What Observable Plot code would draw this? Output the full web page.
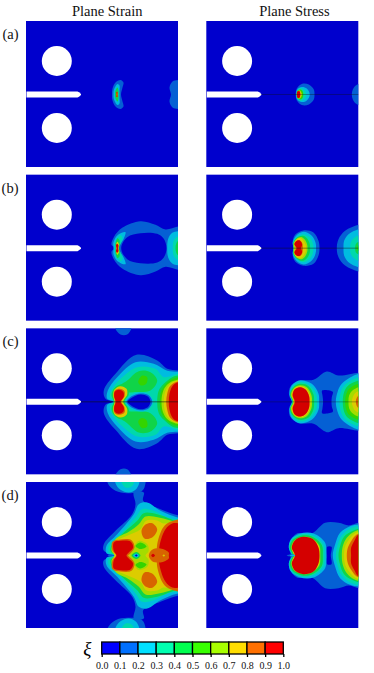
<!DOCTYPE html>
<html><head><meta charset="utf-8">
<script src="https://cdn.jsdelivr.net/npm/d3@7"></script>
<script src="https://cdn.jsdelivr.net/npm/@observablehq/plot@0.6"></script>
<style>html,body{margin:0;padding:0;background:#fff}svg{display:block}</style>
</head><body><div id="chart"></div><div id="bar"></div>
<script>
const columns = ["Plane Strain", "Plane Stress"];
const rowsNames = ["(a)", "(b)", "(c)", "(d)"];
const bandEdges = [0, 0.1, 0.2, 0.3, 0.4, 0.5, 0.6, 0.7, 0.8, 0.9, 1.0];
const panelColors = ["#0000cd","#0560d4","#00bce0","#00d8ac","#10d448","#34d400","#a4dc00","#dccc00","#d86400","#d40000"];
const barColors = ["#0000ff","#0070ff","#00e0ff","#00ffb0","#00ff50","#38ff00","#a8ff00","#ffdd00","#ff7000","#ff0000"];
const holeCenters = [[30.3,-33.5],[30.3,33.5]];
const notchOutline = [[0,-3],[51,-3],[52.5,-2.2],[54.5,-0.5],[54.5,0.5],[52.5,2.2],[51,3],[0,3]];
const crackPanels = [["Plane Stress","(a)",0.6],["Plane Stress","(b)",0.75],["Plane Stress","(c)",0.55],["Plane Strain","(c)",1]];

// contour bands: [lower bound of xi band, half = mirrored across the crack axis / pair = two mirrored lobes, outline]
const strainA = [
 [0.1,"half",[[144.5,0],[143,-7],[146,-13],[152,-14.5],[160,-14.5],[160,0]]],
 [0.1,"half",[[85.5,0],[86,-6],[89,-12],[94,-14.5],[97,-12],[96,-7],[94.5,0]]],
 [0.2,"half",[[87,0],[87.5,-5],[91,-10.5],[93,-9],[93,-4],[93,0]]],
 [0.4,"half",[[88.5,0],[89,-4],[91,-7],[92,-4],[92,0]]],
 [0.6,"half",[[89.5,0],[90.5,-3],[91.5,-1.5],[91.5,0]]],
 [0.9,"half",[[90,0],[90,-2.5],[91,-2.5],[91,0]]]
];
const stressA = [
 [0.1,"half",[[145,0],[146,-5],[149,-9],[153,-11],[160,-11],[160,0]]],
 [0.1,"half",[[89,0],[90,-6],[95,-10.5],[102,-10],[107,-5],[107.7,0]]],
 [0.2,"half",[[89.3,0],[90.5,-5],[95,-7.5],[100,-6],[103,0]]],
 [0.3,"half",[[89.5,0],[91,-4.5],[94,-6.5],[98,-4],[99.5,0]]],
 [0.5,"half",[[90,0],[91,-4],[94,-5],[96,-3],[96.5,0]]],
 [0.7,"half",[[90,0],[91,-3.5],[93,-4],[94.5,-2],[95,0]]],
 [0.9,"half",[[90,0],[90.5,-3],[92.5,-3.5],[93.5,-1],[93.5,0]]]
];
const strainB = [
 [0.1,"half",[[89,0],[85,-3.3],[87.3,-11],[95.7,-20.3],[114,-27],[129,-23.3],[139,-18.7],[151.7,-21.7],[160,-21.7],[160,0]]],
 [0.0,"half",[[94.7,0],[100.7,-11],[114,-15],[130.7,-14.3],[137.3,-9.3],[140,0]]],
 [0.2,"half",[[140.7,0],[141.7,-9.3],[145.7,-15.3],[151.7,-17],[160,-17],[160,0]]],
 [0.3,"half",[[146.3,0],[147.3,-7.7],[151.7,-12],[160,-12],[160,0]]],
 [0.4,"half",[[149,0],[149.7,-4.3],[151.7,-7.3],[160,-7],[160,0]]],
 [0.2,"half",[[87,0],[87,-6],[91,-13],[99,-16],[97,-9],[93,-3],[92.5,0]]],
 [0.3,"half",[[89,0],[88.7,-4],[90,-9],[94,-13],[96,-10],[94,-4],[92,0]]],
 [0.4,"half",[[89,0],[89,-5],[91,-10],[93,-8],[93,-3],[92.5,0]]],
 [0.7,"half",[[89.5,0],[89.5,-3.5],[91,-6.5],[92.5,-4],[92,0]]],
 [0.9,"half",[[90,0],[89.5,-3],[90.5,-4.5],[92,-3],[91.5,0]]]
];
const stressB = [
 [0.1,"half",[[130,0],[131.7,-9],[138.3,-17.3],[151.7,-23.3],[160,-25],[160,0]]],
 [0.2,"half",[[136.7,0],[137.3,-7.3],[141.7,-14],[151.7,-19],[160,-21],[160,0]]],
 [0.3,"half",[[143.3,0],[144,-5.7],[146.7,-9.7],[151.7,-13],[160,-15],[160,0]]],
 [0.4,"half",[[148.3,0],[149,-4],[151.7,-6.3],[160,-8],[160,0]]],
 [0.5,"half",[[150,0],[151,-2.3],[160,-4],[160,0]]],
 [0.1,"half",[[86.7,0],[85.7,-5.7],[88.3,-13.3],[96.7,-17.7],[106.7,-15.7],[111.7,-7.3],[112.7,0]]],
 [0.2,"half",[[86.7,0],[86,-5.7],[89.3,-12.3],[96.7,-16.3],[105,-12.3],[108.7,-5.7],[109.3,0]]],
 [0.3,"half",[[87,0],[86.3,-5.5],[90,-11],[96.7,-14],[103,-11],[106,-5],[106.7,0]]],
 [0.4,"half",[[87,0],[86.5,-5],[90,-10.5],[96,-12.5],[100.5,-9.5],[103,-4],[103.3,0]]],
 [0.6,"half",[[87,0],[87,-5],[90,-9.5],[95,-11],[98.5,-8],[100.5,-3],[100.7,0]]],
 [0.7,"half",[[88,0],[87.5,-5],[90,-9],[94,-10],[97,-7],[99,-3],[99.3,0]]],
 [0.8,"half",[[89,0],[88,-4.5],[90.5,-7.5],[93,-8],[95.5,-5],[96,0]]],
 [0.9,"half",[[90,0],[87.5,-4],[90,-7.5],[93,-7.7],[95.3,-4],[94.5,-1],[94,0]]]
];
const strainC = [
 [0.1,"pair",[[89,-80],[89,-73],[94,-67.3],[100.7,-67.3],[104.7,-73],[104.7,-80]]],
 [0.1,"half",[[87.3,0],[79,-3],[77.3,-11.3],[89,-28],[110,-47],[130.7,-41.3],[140.7,-33],[151.7,-31.3],[160,-31],[160,0]]],
 [0.2,"half",[[87.3,0],[80.7,-3],[81.3,-11.3],[90.7,-24.7],[109,-39.7],[127.3,-38],[140.7,-31],[151.7,-30],[160,-30],[160,0]]],
 [0.3,"half",[[87.3,0],[83.3,-4.7],[85.7,-13],[94,-23],[110.7,-34.7],[129,-33],[137.3,-24.7],[151.7,-28],[160,-28],[160,0]]],
 [0.4,"pair",[[92.3,-14.7],[100.7,-21.3],[112.3,-30.7],[124,-29.7],[130.7,-21.3],[124,-11.3],[107.3,-9.7],[99,-9.7]]],
 [0.5,"pair",[[111.7,-19.7],[115.7,-26.3],[120.7,-24.7],[119.7,-18],[114.7,-16.3]]],
 [0.2,"half",[[99,0],[104,-6.3],[114,-9.7],[122.3,-7.3],[126.7,0]]],
 [0.1,"half",[[100,0],[104.7,-5.3],[114,-8.3],[122.3,-6.3],[125.7,0]]],
 [0.0,"half",[[101,0],[105.7,-4.3],[114,-7.3],[121.3,-5.3],[124,0]]],
 [0.4,"half",[[87.3,0],[85,-6.3],[87.3,-13],[94,-17.3],[101.3,-13],[102.3,-7.3],[98,0]]],
 [0.7,"half",[[88,0],[86.7,-6.3],[88,-12.3],[94,-15.7],[100,-13],[100.7,-7.3],[96.7,0]]],
 [0.8,"half",[[88.7,0],[87.3,-6.3],[88.3,-11.3],[93.3,-13],[98,-10.7],[98,-5.3],[94.7,0]]],
 [0.9,"half",[[89.3,0],[87.7,-5.3],[88.3,-10],[92.3,-12],[96.7,-10],[97.3,-5.3],[94.7,-1.3],[94,0]]],
 [0.4,"half",[[130.7,0],[132.3,-11.3],[137.3,-18],[145.7,-24.7],[151.7,-26.3],[160,-26.3],[160,0]]],
 [0.5,"half",[[133.3,0],[134.7,-10.3],[139,-17.3],[146.7,-23],[160,-24.7],[160,0]]],
 [0.6,"half",[[135,0],[136.3,-9.7],[140,-16.3],[147.3,-21],[160,-22],[160,0]]],
 [0.7,"half",[[137.3,0],[138.3,-8.7],[141.7,-15.7],[148,-20.3],[160,-21],[160,0]]],
 [0.8,"half",[[139.7,0],[140.7,-8],[143.3,-15.3],[149,-19.7],[160,-20],[160,0]]],
 [0.9,"half",[[142.3,0],[143,-8],[145.7,-15.3],[150,-19],[160,-19.5],[160,0]]]
];
const stressC = [
 [0.1,"half",[[85,0],[82.3,-6.3],[83.3,-14.7],[91.7,-21.3],[106.7,-22],[120,-30.3],[131.7,-26.3],[151.7,-29],[160,-29],[160,0]]],
 [0.0,"half",[[116.3,0],[115.7,-6.3],[115.3,-11.3],[126,-10],[125,-4.7],[124.7,0]]],
 [0.2,"half",[[85.3,0],[82.7,-7.3],[85,-16.3],[93.3,-21.3],[105,-18],[111.7,-8],[112.3,0]]],
 [0.3,"half",[[85.3,0],[83,-7.3],[86,-15.3],[93.3,-19.7],[103.3,-16.3],[109.3,-8],[110.3,0]]],
 [0.4,"half",[[86,0],[83.3,-7.3],[86.7,-14.7],[93.3,-18],[101.7,-15.7],[106.7,-7.3],[107.3,0]]],
 [0.6,"half",[[86.5,0],[84,-7],[87.5,-14],[93.3,-16.5],[100,-14.5],[104.5,-7],[105.3,0]]],
 [0.7,"half",[[87,0],[85,-7],[88,-13.5],[93.3,-15.5],[99,-13.5],[103,-7],[103.7,0]]],
 [0.8,"half",[[87.5,0],[85.5,-7],[88.5,-13],[93.3,-14.7],[98,-13],[102,-7],[102.5,0]]],
 [0.9,"half",[[88.3,0],[86,-6.3],[87.7,-12.3],[93.3,-14.7],[99,-12],[102.3,-5.3],[102.7,0]]],
 [0.2,"half",[[129,0],[130.7,-9.7],[135,-18],[151.7,-28],[160,-28],[160,0]]],
 [0.3,"half",[[132.7,0],[134,-9.7],[138.3,-17.3],[151.7,-24.7],[160,-25],[160,0]]],
 [0.4,"half",[[136,0],[137,-8.7],[140.7,-15.7],[151.7,-21.3],[160,-22],[160,0]]],
 [0.5,"half",[[138.3,0],[139.3,-7.3],[142.3,-13],[151.7,-18],[160,-18],[160,0]]],
 [0.6,"half",[[141.7,0],[142.3,-6.3],[145.7,-11.3],[151.7,-14.7],[160,-15],[160,0]]],
 [0.7,"half",[[145,0],[146,-4.7],[148.3,-8.7],[151.7,-10.7],[160,-11],[160,0]]],
 [0.8,"half",[[149,0],[149.7,-3.3],[151.7,-6],[160,-6],[160,0]]]
];
const strainD = [
 [0.1,"pair",[[81.3,-80],[81.3,-72.3],[89,-64.7],[100.7,-62.3],[115.7,-64.7],[119,-72.3],[119,-80]]],
 [0.2,"pair",[[89,-80],[89,-72.3],[94,-65.7],[102.3,-63],[109,-65.7],[112.7,-72.3],[112.7,-80]]],
 [0.3,"pair",[[94.7,-80],[94.7,-74],[99,-68],[104.7,-68.7],[108,-74],[108,-80]]],
 [0.1,"half",[[88,0],[77.3,-4.7],[77.3,-11.3],[89,-24.7],[105.7,-41.3],[109,-51.3],[107.3,-63],[117.3,-63],[116.7,-54.7],[134,-46.3],[151.7,-40.3],[160,-40],[160,0]]],
 [0.2,"half",[[88,0],[80,-2.3],[80,-9.7],[90.7,-21.3],[107.3,-41.3],[112.3,-51.3],[120.7,-53],[134,-44.7],[151.7,-38],[160,-38],[160,0]]],
 [0.3,"half",[[88,0],[82.3,-3],[82.3,-9.7],[94,-21.3],[109,-38],[115.7,-46.3],[127.3,-44.7],[140.7,-38],[151.7,-36.3],[160,-36],[160,0]]],
 [0.4,"half",[[88,0],[84,-4.7],[85.7,-11.3],[97.3,-23],[110.7,-34.7],[117.3,-42.3],[130.7,-41.3],[151.7,-34],[160,-34],[160,0]]],
 [0.6,"half",[[88,0],[85,-5],[89,-16.3],[102.3,-23.7],[112.3,-31.3],[119,-39],[132.3,-38],[151.7,-33],[160,-33],[160,0]]],
 [0.7,"half",[[88,0],[86.5,-4.7],[87.3,-13],[100.7,-19.7],[114,-26.3],[119.7,-34.7],[130.7,-35],[137,-32],[152,-34],[160,-34],[160,0]]],
 [0.6,"half",[[103,0],[106,-6],[112,-14.5],[121,-11],[122,-4],[119,0]]],
 [0.5,"pair",[[109,-9.5],[114,-13],[120,-9],[114,-6.5]]],
 [0.8,"pair",[[115,-24.7],[119,-31],[125.7,-32.3],[130.7,-26.3],[125.7,-18],[118,-17]]],
 [0.8,"half",[[130.7,0],[130.7,-11.3],[136.7,-28],[144,-33.7],[160,-35],[160,0]]],
 [0.9,"half",[[132.3,0],[133.3,-11.3],[139,-26.3],[145.7,-32],[154,-32],[160,-32],[160,0]]],
 [0.8,"half",[[122.3,0],[125.7,-5.7],[134,-7],[142.3,-3],[142.3,0]]],
 [0.9,"half",[[124.7,0],[126.5,-1.7],[128.5,0]]],
 [0.7,"half",[[136,0],[137.5,-1],[138.5,0]]],
 [0.4,"half",[[105,0],[110,-3.5],[114,0]]],
 [0.2,"half",[[106.5,0],[110,-2],[112.5,0]]],
 [0.0,"half",[[108.5,0],[110,-1],[111,0]]],
 [0.8,"half",[[89.5,0],[86,-4.7],[86,-13.7],[94,-16],[105,-15.3],[108,-8],[104,-2.3],[101.7,0]]],
 [0.9,"half",[[90,0],[87.3,-4.7],[87.3,-13],[94,-14.7],[104,-14],[106.7,-8],[102.3,-3],[100,0]]],
 [0.1,"half",[[81,0],[85,-1],[88,0]]]
];
const stressD = [
 [0.1,"half",[[84,0],[82,-7.7],[83.3,-14.3],[90,-22],[105,-22],[118.3,-32.7],[131.7,-32.7],[142,-30],[151.7,-32.7],[160,-33],[160,0]]],
 [0.0,"half",[[120.3,0],[120.3,-8.7],[124.7,-8.7],[124,0]]],
 [0.2,"half",[[85,0],[82,-7.7],[84,-16],[93.3,-22],[106.7,-22],[118.3,-12.7],[119.3,0]]],
 [0.3,"half",[[85.5,0],[82.3,-7.7],[85,-16],[94.3,-21],[106,-20],[116.7,-11],[117.7,0]]],
 [0.4,"half",[[86,0],[83,-7.7],[86,-15.5],[95,-20],[105,-19],[115,-10.5],[116,0]]],
 [0.6,"half",[[87,0],[84.5,-7.7],[87.5,-15],[96,-18.5],[104,-17.5],[112.5,-10],[113.5,0]]],
 [0.7,"half",[[87.5,0],[85,-7.7],[88,-14.5],[96,-17.8],[103.5,-17],[112,-9.5],[112.5,0]]],
 [0.8,"half",[[88,0],[85.5,-7.7],[88.5,-14],[96,-17],[103,-16],[111,-9],[111.5,0]]],
 [0.9,"half",[[88.3,0],[85,-7.7],[88.3,-15.3],[96.7,-18.7],[106.7,-16],[111.7,-7.7],[112.7,0]]],
 [0.1,"half",[[80,0],[85,-1.2],[88.5,0]]],
 [0.2,"half",[[83,0],[86,-0.7],[88.5,0]]],
 [0.2,"half",[[126,0],[128.3,-11],[133.3,-22.7],[143.3,-29.3],[151.7,-31],[160,-31],[160,0]]],
 [0.3,"half",[[129,0],[130.7,-10],[135,-20],[145,-27.7],[160,-29],[160,0]]],
 [0.4,"half",[[131.7,0],[133.3,-9.3],[137.3,-18.7],[146.7,-25],[160,-27],[160,0]]],
 [0.6,"half",[[135,0],[136,-9.3],[140,-17.7],[148.3,-24.3],[160,-26],[160,0]]],
 [0.7,"half",[[137.3,0],[138.3,-8.7],[142.3,-16],[149.3,-22.7],[160,-24],[160,0]]],
 [0.8,"half",[[140,0],[141,-7.7],[145,-15.3],[150,-21],[160,-23],[160,0]]],
 [0.9,"half",[[144.3,0],[144.3,-7.7],[147.3,-14.3],[151.7,-21],[160,-22],[160,0]]]
];

const panelShapes = [
 ["Plane Strain","(a)",strainA],["Plane Stress","(a)",stressA],
 ["Plane Strain","(b)",strainB],["Plane Stress","(b)",stressB],
 ["Plane Strain","(c)",strainC],["Plane Stress","(c)",stressC],
 ["Plane Strain","(d)",strainD],["Plane Stress","(d)",stressD]
];

// flatten outlines into rows, in painting order
const outlineRows = [];
let shapeId = 0;
for (const [col, row, shapes] of panelShapes) {
  for (const [band, mode, pts] of shapes) {
    const push = (list) => { shapeId++; for (const [u, v] of list) outlineRows.push({col, row, band, id: shapeId, u, v}); };
    const mirror = pts.map(([u, v]) => [u, -v]);
    if (mode === "half") push(pts.concat(mirror.filter(p => p[1] !== 0).reverse()));
    else { push(pts); push(mirror); }
  }
}
const basePanels = panelShapes.map(([col, row]) => ({col, row, band: 0}));
const holeRows = basePanels.flatMap(p => holeCenters.map(([u, v]) => ({...p, u, v})));
const notchRows = basePanels.flatMap((p, i) => notchOutline.map(([u, v]) => ({...p, i, u, v})));
const crackRows = crackPanels.map(([col, row, o]) => ({col, row, o}));
const serif = "'Liberation Serif','Times New Roman',serif";

const chart = Plot.plot({
  width: 374, height: 635,
  marginLeft: 26, marginRight: 15.7, marginTop: 21, marginBottom: 7,
  style: {fontFamily: serif, background: "#fff"},
  x: {domain: [0, 152], axis: null},
  y: {domain: [-73, 73], reverse: true, axis: null},
  fx: {domain: columns, paddingInner: 0.157, paddingOuter: 0, round: false, axis: null},
  fy: {domain: rowsNames, paddingInner: 0.05, paddingOuter: 0, round: false, axis: null},
  color: {type: "threshold", domain: bandEdges.slice(1, -1), range: panelColors},
  marks: [
    Plot.rect(basePanels, {x1: 0, x2: 152, y1: -73, y2: 73, fx: "col", fy: "row", fill: "band"}),
    Plot.line(outlineRows, {x: "u", y: "v", z: "id", fx: "col", fy: "row", fill: "band", stroke: "none", curve: "catmull-rom-closed", clip: true}),
    Plot.ruleY(crackRows, {y: 0, x1: 53, x2: 152, fx: "col", fy: "row", stroke: "#111", strokeWidth: 0.6, strokeOpacity: {value: "o", scale: null}}),
    Plot.line(notchRows, {x: "u", y: "v", z: "i", fx: "col", fy: "row", fill: "#fff", stroke: "none", curve: "linear-closed"}),
    Plot.dot(holeRows, {x: "u", y: "v", fx: "col", fy: "row", r: 15, fill: "#fff"}),
    Plot.text(columns, {fx: d => d, fy: () => "(a)", x: d => d === columns[0] ? 80.7 : 87.6, y: -73, dy: -10.5, text: d => d, fontSize: 14.5, fill: "#111"}),
    Plot.text(rowsNames, {fy: d => d, fx: () => columns[0], x: 0, y: -60, dx: -8, textAnchor: "end", text: d => d, fontSize: 14.5, fill: "#111"})
  ]
});
document.getElementById("chart").append(chart);

const barBands = d3.pairs(bandEdges).map(([lo, hi]) => ({lo, hi}));
const bar = Plot.plot({
  width: 374, height: 38,
  marginLeft: 101.7, marginRight: 90.7, marginTop: 7, marginBottom: 19,
  style: {fontFamily: serif, background: "#fff"},
  x: {domain: [0, 1], axis: null},
  y: {domain: [0, 1], axis: null},
  color: {type: "threshold", domain: bandEdges.slice(1, -1), range: barColors},
  marks: [
    Plot.rect(barBands, {x1: "lo", x2: "hi", y1: 0, y2: 1, fill: "lo", stroke: "#000", strokeWidth: 1.3}),
    Plot.axisX({ticks: bandEdges, tickFormat: d3.format(".1f"), tickSize: 3, tickPadding: 4, fontSize: 10, label: null, stroke: "#000", strokeWidth: 1.3, fill: "#111"}),
    Plot.text(["ξ"], {x: 0, y: 0.5, dx: -15, text: d => d, fontSize: 19, fontStyle: "italic", fill: "#000"})
  ]
});
document.getElementById("bar").append(bar);
</script></body></html>
